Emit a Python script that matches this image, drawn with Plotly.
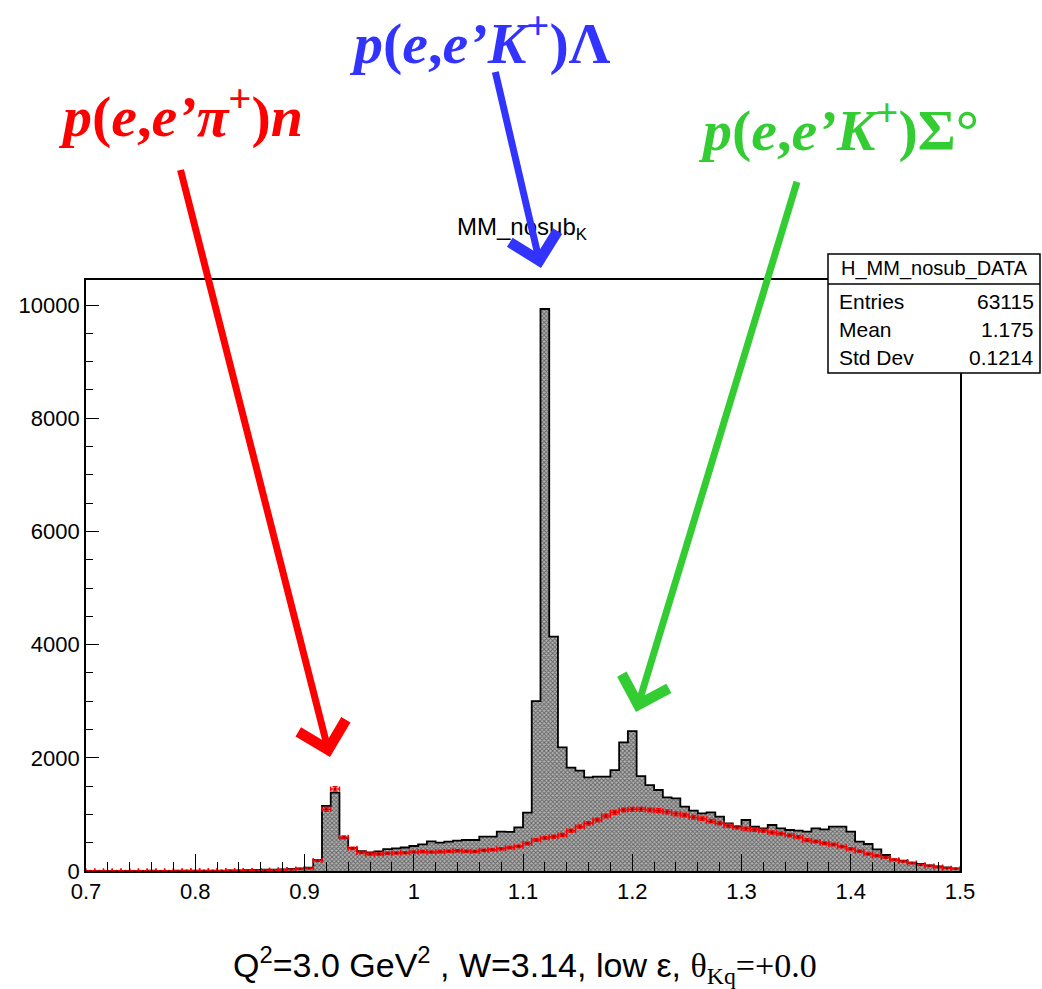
import plotly.graph_objects as go

# ---------------- data ----------------
x_min = 0.7
bin_width = 0.008
n_bins = 100

# H_MM_nosub_DATA (gray histogram), counts per bin (0.700 .. 1.500, 0.008 wide)
mm_data = [
    2, 1, 3, 2, 2, 3, 2, 4, 3, 3,
    4, 5, 4, 6, 6, 8, 9, 12, 15, 18,
    22, 25, 28, 35, 45, 60, 194, 1150, 1385, 590,
    410, 350, 330, 348, 386, 400, 415, 442, 471, 524,
    500, 518, 536, 548, 548, 607, 607, 695, 690, 771,
    1030, 3003, 9930, 4140, 2185, 1826, 1772, 1655, 1667, 1667,
    1784, 2273, 2473, 1678, 1519, 1431, 1302, 1284, 1137, 1066,
    1019, 1037, 960, 842, 783, 901, 783, 754, 813, 754,
    724, 713, 695, 754, 736, 783, 783, 695, 518, 477,
    383, 283, 206, 183, 147, 124, 100, 82, 65, 47,
]

# red points with error bars
mm_red = [
    1, 1, 1, 1, 1, 2, 1, 2, 2, 2,
    2, 3, 3, 3, 4, 4, 5, 6, 8, 10,
    12, 15, 20, 25, 35, 47, 185, 1090, 1450, 595,
    400, 326, 300, 300, 312, 318, 324, 336, 342, 336,
    342, 350, 356, 350, 345, 365, 375, 392, 412, 436,
    485, 548, 585, 605, 636, 712, 783, 842, 901, 972,
    1037, 1078, 1090, 1090, 1078, 1066, 1045, 1010, 990, 950,
    925, 880, 845, 800, 770, 745, 730, 710, 680, 660,
    630, 600, 545, 520, 490, 470, 430, 390, 350, 300,
    270, 240, 200, 170, 140, 110, 90, 70, 50, 38,
]

x_tick_vals = [0.7, 0.8, 0.9, 1.0, 1.1, 1.2, 1.3, 1.4, 1.5]
x_tick_text = ["0.7", "0.8", "0.9", "1", "1.1", "1.2", "1.3", "1.4", "1.5"]
y_tick_vals = [0, 2000, 4000, 6000, 8000, 10000]
y_tick_text = ["0", "2000", "4000", "6000", "8000", "10000"]

stats_name = "H_MM_nosub_DATA"
stats_rows = [("Entries", "63115"), ("Mean", "1.175"), ("Std Dev", "0.1214")]

bin_centers = [x_min + bin_width * (i + 0.5) for i in range(n_bins)]
bin_edges = [x_min + bin_width * i for i in range(n_bins + 1)]

# ---------------- layout geometry (pixels) ----------------
W, H = 1042, 989
L, R, T, B = 86, 960, 280, 871


def px(x):
    return (x - L) / (R - L)


def py(y):
    return (B - y) / (B - T)


fig = go.Figure()

# gray filled histogram (ROOT-like hatch)
fig.add_trace(go.Bar(
    x=bin_centers, y=mm_data, width=bin_width,
    marker=dict(
        color="#808080",
        line=dict(width=0),
        pattern=dict(shape="x", size=3, solidity=0.55,
                     fgcolor="#1a1a1a", bgcolor="#b4b4b4"),
    ),
    showlegend=False, hoverinfo="skip",
))

# black step outline
fig.add_trace(go.Scatter(
    x=bin_edges, y=mm_data + [mm_data[-1]],
    mode="lines", line=dict(color="black", width=1.8, shape="hv"),
    showlegend=False, hoverinfo="skip",
))

# red points with errors
fig.add_trace(go.Scatter(
    x=bin_centers, y=mm_red, mode="markers",
    marker=dict(color="#990000", size=2.5),
    error_x=dict(type="constant", value=bin_width / 2, color="#ff0000",
                 thickness=1.5, width=2.5),
    error_y=dict(type="sqrt", color="#ff0000", thickness=1.5, width=2.5),
    showlegend=False, hoverinfo="skip",
))

tick_font = dict(family="Liberation Sans, Arial, sans-serif", size=22, color="black")

fig.update_layout(
    width=W, height=H,
    margin=dict(l=L, r=W - R, t=T, b=H - B, pad=0),
    paper_bgcolor="white", plot_bgcolor="white",
    bargap=0,
    xaxis=dict(
        range=[0.7, 1.5], tickmode="array", tickvals=x_tick_vals, ticktext=x_tick_text,
        ticks="inside", ticklen=17, tickwidth=1.3, tickcolor="black",
        minor=dict(tickmode="linear", tick0=0.7, dtick=0.02, ticks="inside",
                   ticklen=9, tickwidth=1.3, tickcolor="black", showgrid=False),
        showline=True, linecolor="black", linewidth=1.6, mirror=True,
        showgrid=False, zeroline=False, tickfont=tick_font,
    ),
    yaxis=dict(
        range=[0, 10442], tickmode="array", tickvals=y_tick_vals, ticktext=y_tick_text,
        ticks="inside", ticklen=13, tickwidth=1.3, tickcolor="black",
        minor=dict(tickmode="linear", tick0=0, dtick=500, ticks="inside",
                   ticklen=7, tickwidth=1.3, tickcolor="black", showgrid=False),
        showline=True, linecolor="black", linewidth=1.6, mirror=True,
        showgrid=False, zeroline=False, tickfont=tick_font,
    ),
)

# stats box
fig.add_shape(type="rect", xref="paper", yref="paper",
              x0=px(828), x1=px(1040), y0=py(373), y1=py(254),
              line=dict(color="black", width=1.5), fillcolor="white", layer="above")
fig.add_shape(type="line", xref="paper", yref="paper",
              x0=px(828), x1=px(1040), y0=py(284), y1=py(284),
              line=dict(color="black", width=1.5), layer="above")

stats_font = dict(family="Liberation Sans, Arial, sans-serif", size=21, color="black")
fig.add_annotation(xref="paper", yref="paper", x=px(934), y=py(269),
                   text=stats_name, showarrow=False,
                   font=dict(family="Liberation Sans, Arial, sans-serif", size=20, color="black"),
                   xanchor="center", yanchor="middle")
row_y = [301, 329, 357]
for (lab, val), yy in zip(stats_rows, row_y):
    fig.add_annotation(xref="paper", yref="paper", x=px(837), y=py(yy),
                       text=lab, showarrow=False, font=stats_font,
                       xanchor="left", yanchor="middle")
    fig.add_annotation(xref="paper", yref="paper", x=px(1036), y=py(yy),
                       text=val, showarrow=False, font=stats_font,
                       xanchor="right", yanchor="middle")

# histogram title
fig.add_annotation(xref="paper", yref="paper", x=px(522), y=py(228),
                   text="MM_nosub<sub>K</sub>", showarrow=False,
                   font=dict(family="Liberation Sans, Arial, sans-serif", size=24, color="black"),
                   xanchor="center", yanchor="middle")

# bottom caption
fig.add_annotation(
    xref="paper", yref="paper", x=px(525), y=py(965),
    text=("Q<sup>2</sup>=3.0 GeV<sup>2</sup> , W=3.14, low ε, "
          "<span style=\"font-family:'Liberation Serif', serif\">θ<sub>Kq</sub>=+0.0</span>"),
    showarrow=False,
    font=dict(family="Liberation Sans, Arial, sans-serif", size=34, color="black"),
    xanchor="center", yanchor="middle",
)

# arrows
arrows = [
    ((330, 757), (178, 160), "#ff0000"),
    ((541, 268), (493, 62), "#3333ff"),
    ((636, 712), (800, 172), "#33cc33"),
]
for (tx, ty), (sx, sy), col in arrows:
    fig.add_annotation(xref="paper", yref="paper", x=px(tx), y=py(ty),
                       axref="pixel", ayref="pixel", ax=sx - tx, ay=sy - ty,
                       text=" ", showarrow=True, arrowhead=4, arrowsize=1.35,
                       arrowwidth=7, arrowcolor=col, standoff=0, startstandoff=0)

# reaction labels
label_font = "Liberation Serif, Times New Roman, serif"
labels = [
    (180, 112, "#ff0000", "<b><i>p</i>(<i>e</i>,<i>e’π</i><sup>+</sup>)<i>n</i></b>"),
    (480, 40, "#3333ff", "<b><i>p</i>(<i>e</i>,<i>e’K</i><sup>+</sup>)Λ</b>"),
    (838, 126, "#33cc33", "<b><i>p</i>(<i>e</i>,<i>e’K</i><sup>+</sup>)Σ°</b>"),
]
for cx, cy, col, txt in labels:
    fig.add_annotation(xref="paper", yref="paper", x=px(cx), y=py(cy),
                       text=txt, showarrow=False,
                       font=dict(family=label_font, size=58, color=col),
                       xanchor="center", yanchor="middle")

fig.write_html("out.html")
